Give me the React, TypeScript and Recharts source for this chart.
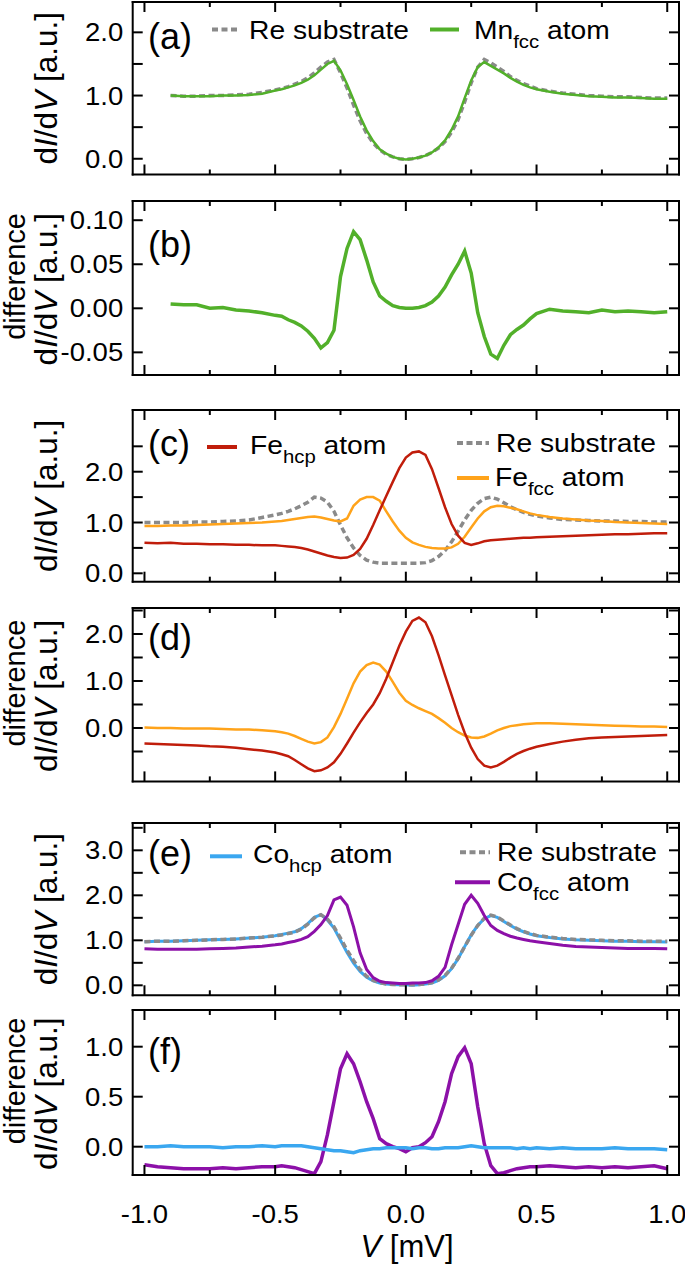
import React from 'react';
import { LineChart, Line, XAxis, YAxis, Legend } from 'recharts';

const FONT = "'Liberation Sans', Arial, Helvetica, sans-serif";
const W = 685;
const PL = 132.7;
const PR = 679;
const SXT = 1.1;
const SXL = 1.13;
const TICK_FS = 25;
const LEG_FS = 25;
const SUB_FS = 18;
const TITLE_FS = 31.5;
const DIFF_FS = 29;
const XTITLE_FS = 31;
const PANEL_FS = 36;

const GRAY = '#8a8a8a';
const GREEN = '#52b02a';
const RED = '#c01d0b';
const ORANGE = '#ffa31a';
const BLUE = '#3aa7f0';
const PURPLE = '#8c10a8';

// bias voltage [mV]
const V_MV = [-1.0, -0.95, -0.9, -0.85, -0.8, -0.75, -0.7, -0.65, -0.6, -0.55,
  -0.5, -0.475, -0.45, -0.425, -0.4, -0.375, -0.35, -0.325, -0.3, -0.275, -0.25, -0.225, -0.2, -0.175, -0.15, -0.125, -0.1, -0.075, -0.05, -0.025,
  0, 0.025, 0.05, 0.075, 0.1, 0.125, 0.15, 0.175, 0.2, 0.225, 0.25, 0.275, 0.3, 0.325, 0.35, 0.375, 0.4, 0.425, 0.45, 0.475, 0.5,
  0.55, 0.6, 0.65, 0.7, 0.75, 0.8, 0.85, 0.9, 0.95, 1.0];

// (a)
const reSubA = [null, null, 1.0, 0.99, 0.99, 1.0, 1.0, 1.01, 1.02, 1.05,
  1.09, 1.11, 1.14, 1.18, 1.22, 1.28, 1.36, 1.45, 1.53, 1.57, 1.36, 1.12, 0.85, 0.6, 0.4, 0.25, 0.14, 0.07, 0.03, 0.0,
  -0.01, 0.0, 0.02, 0.05, 0.1, 0.17, 0.27, 0.42, 0.62, 0.9, 1.2, 1.45, 1.57, 1.52, 1.45, 1.38, 1.3, 1.24, 1.19, 1.15, 1.11,
  1.07, 1.04, 1.02, 1.0, 0.99, 0.98, 0.98, 0.97, 0.96, 0.96];
const mnFccA = [null, null, 1.0, 0.99, 0.99, 0.99, 1.0, 1.0, 1.01, 1.03,
  1.08, 1.1, 1.13, 1.16, 1.2, 1.25, 1.32, 1.41, 1.5, 1.55, 1.4, 1.18, 0.93, 0.67, 0.45, 0.28, 0.15, 0.08, 0.03, 0.0,
  -0.01, 0.0, 0.02, 0.05, 0.1, 0.18, 0.29, 0.46, 0.67, 0.96, 1.24, 1.45, 1.53, 1.47, 1.41, 1.35, 1.28, 1.22, 1.17, 1.13, 1.1,
  1.06, 1.03, 1.01, 0.99, 0.98, 0.97, 0.97, 0.96, 0.95, 0.95];
// (b)
const mnDiffB = [null, null, 0.005, 0.004, 0.004, 0.0, 0.001, -0.002, -0.003, -0.005,
  -0.008, -0.009, -0.013, -0.016, -0.02, -0.026, -0.034, -0.045, -0.039, -0.025, 0.036, 0.068, 0.087, 0.078, 0.055, 0.03, 0.014, 0.008, 0.003, 0.001,
  0.0, 0.0, 0.001, 0.003, 0.007, 0.014, 0.024, 0.038, 0.05, 0.065, 0.04, -0.005, -0.032, -0.052, -0.057, -0.042, -0.03, -0.024, -0.019, -0.012, -0.006,
  -0.001, -0.003, -0.004, -0.005, -0.002, -0.004, -0.003, -0.004, -0.005, -0.004];
// (c)
const feHcpC = [0.6, 0.59, 0.6, 0.58, 0.58, 0.57, 0.57, 0.56, 0.56, 0.55,
  0.55, 0.54, 0.53, 0.52, 0.5, 0.47, 0.43, 0.39, 0.35, 0.32, 0.3, 0.31, 0.36, 0.48, 0.68, 0.95, 1.24, 1.52, 1.8, 2.07,
  2.28, 2.38, 2.4, 2.33, 2.05, 1.68, 1.3, 0.97, 0.74, 0.6, 0.56, 0.59, 0.63, 0.65, 0.66, 0.67, 0.68, 0.69, 0.7, 0.7, 0.71,
  0.72, 0.73, 0.74, 0.75, 0.76, 0.77, 0.77, 0.78, 0.79, 0.79];
const reSubC = [1.0, 1.0, 1.0, 1.0, 1.01, 1.01, 1.02, 1.03, 1.05, 1.1,
  1.15, 1.18, 1.22, 1.27, 1.33, 1.4, 1.5, 1.48, 1.4, 1.22, 0.95, 0.7, 0.5, 0.35, 0.26, 0.22, 0.2, 0.2, 0.2, 0.2,
  0.2, 0.2, 0.2, 0.21, 0.25, 0.33, 0.45, 0.62, 0.83, 1.05, 1.24, 1.38, 1.47, 1.5, 1.46, 1.39, 1.31, 1.25, 1.2, 1.16, 1.13,
  1.09, 1.06, 1.05, 1.04, 1.03, 1.03, 1.02, 1.02, 1.01, 1.01];
const feFccC = [0.93, 0.93, 0.94, 0.94, 0.95, 0.96, 0.97, 0.98, 0.99, 1.0,
  1.02, 1.03, 1.05, 1.07, 1.09, 1.11, 1.12, 1.1, 1.07, 1.04, 1.02, 1.08, 1.33, 1.45, 1.5, 1.5, 1.43, 1.22, 1.02, 0.84,
  0.7, 0.61, 0.56, 0.52, 0.5, 0.49, 0.49, 0.51, 0.58, 0.72, 0.9, 1.08, 1.22, 1.3, 1.33, 1.32, 1.29, 1.26, 1.22, 1.18, 1.15,
  1.11, 1.08, 1.06, 1.04, 1.03, 1.01, 1.0, 0.99, 0.98, 0.97];
// (d)
const feHcpDiffD = [-0.33, -0.34, -0.35, -0.36, -0.37, -0.39, -0.4, -0.42, -0.45, -0.48,
  -0.52, -0.56, -0.6, -0.68, -0.77, -0.86, -0.92, -0.9, -0.84, -0.73, -0.55, -0.33, -0.1, 0.12, 0.32, 0.5, 0.74, 1.05, 1.4, 1.75,
  2.05, 2.28, 2.35, 2.25, 1.95, 1.55, 1.12, 0.7, 0.28, -0.1, -0.42, -0.66, -0.8, -0.84, -0.8, -0.72, -0.63, -0.55, -0.49, -0.44, -0.4,
  -0.34, -0.29, -0.25, -0.22, -0.2, -0.19, -0.18, -0.17, -0.16, -0.15];
const feFccDiffD = [0.01, 0.0, 0.0, -0.01, -0.01, -0.01, -0.02, -0.03, -0.03, -0.05,
  -0.07, -0.09, -0.12, -0.17, -0.23, -0.29, -0.33, -0.3, -0.2, 0.02, 0.3, 0.62, 0.95, 1.2, 1.34, 1.39, 1.35, 1.2, 0.98, 0.75,
  0.58, 0.49, 0.42, 0.36, 0.3, 0.21, 0.11, 0.0, -0.09, -0.16, -0.2, -0.21, -0.18, -0.12, -0.05, 0.0, 0.04, 0.06, 0.08, 0.09, 0.1,
  0.1, 0.09, 0.08, 0.07, 0.06, 0.05, 0.04, 0.03, 0.03, 0.02];
// (e)
const coHcpE = [0.97, 0.98, 0.98, 0.99, 1.0, 1.01, 1.02, 1.03, 1.05, 1.07,
  1.1, 1.13, 1.16, 1.19, 1.26, 1.37, 1.51, 1.57, 1.45, 1.27, 1.0, 0.73, 0.49, 0.31, 0.18, 0.1, 0.05, 0.03, 0.02, 0.01,
  0.01, 0.0, 0.01, 0.03, 0.05, 0.11, 0.21, 0.37, 0.59, 0.86, 1.12, 1.33, 1.48, 1.55, 1.51, 1.42, 1.33, 1.25, 1.19, 1.14, 1.1,
  1.06, 1.03, 1.01, 1.0, 0.99, 0.98, 0.98, 0.97, 0.97, 0.96];
const reSubE = [0.97, 0.98, 0.98, 0.99, 1.0, 1.01, 1.02, 1.03, 1.05, 1.07,
  1.1, 1.12, 1.15, 1.18, 1.25, 1.36, 1.5, 1.57, 1.47, 1.3, 1.05, 0.78, 0.55, 0.35, 0.2, 0.11, 0.06, 0.03, 0.02, 0.01,
  0.01, 0.01, 0.02, 0.03, 0.06, 0.12, 0.22, 0.38, 0.6, 0.86, 1.11, 1.33, 1.49, 1.56, 1.52, 1.43, 1.34, 1.26, 1.2, 1.15, 1.11,
  1.07, 1.04, 1.02, 1.01, 1.0, 0.99, 0.99, 0.98, 0.98, 0.98];
const coFccE = [0.81, 0.8, 0.8, 0.8, 0.8, 0.81, 0.82, 0.83, 0.85, 0.87,
  0.9, 0.92, 0.95, 0.98, 1.02, 1.08, 1.2, 1.35, 1.55, 1.9, 1.96, 1.78, 1.3, 0.72, 0.35, 0.17, 0.09, 0.06, 0.05, 0.04,
  0.04, 0.05, 0.05, 0.06, 0.1, 0.2, 0.4, 0.9, 1.35, 1.8, 2.0, 1.82, 1.55, 1.33, 1.22, 1.15, 1.09, 1.05, 1.02, 0.99, 0.97,
  0.93, 0.89, 0.86, 0.85, 0.84, 0.83, 0.82, 0.82, 0.82, 0.81];
// (f)
const coHcpDiffF = [0.0, 0.0, 0.01, 0.0, 0.0, 0.0, -0.01, 0.0, 0.0, 0.01,
  0.0, 0.01, 0.01, 0.01, 0.01, 0.0, -0.01, -0.02, -0.03, -0.04, -0.04, -0.05, -0.06, -0.04, -0.03, -0.02, -0.02, -0.01, -0.01, -0.01,
  -0.01, -0.02, -0.01, -0.01, -0.02, -0.02, -0.01, -0.01, -0.01, 0.0, 0.01, 0.0, -0.01, -0.01, -0.01, -0.01, -0.01, -0.02, -0.01, -0.02, -0.01,
  -0.02, -0.01, -0.02, -0.02, -0.02, -0.01, -0.02, -0.02, -0.02, -0.03];
const coFccDiffF = [-0.18, -0.2, -0.21, -0.22, -0.22, -0.22, -0.21, -0.22, -0.21, -0.2,
  -0.2, -0.19, -0.2, -0.21, -0.23, -0.25, -0.27, -0.15, 0.12, 0.45, 0.78, 0.93, 0.83, 0.65, 0.45, 0.28, 0.08, 0.03, 0.0, -0.02,
  -0.05, -0.01, 0.0, 0.04, 0.1, 0.25, 0.45, 0.73, 0.9, 0.99, 0.83, 0.4, 0.03, -0.19, -0.27, -0.26, -0.24, -0.22, -0.21, -0.2, -0.2,
  -0.19, -0.2, -0.21, -0.2, -0.21, -0.2, -0.21, -0.2, -0.19, -0.22];

const X_DOMAIN = [-1.045, 1.045];
const X_TICKS = [-1, -0.75, -0.5, -0.25, 0, 0.25, 0.5, 0.75, 1];
const X_LABEL_VALUES = [-1, -0.5, 0, 0.5, 1];
const X_LABEL_TEXT = ['-1.0', '-0.5', '0.0', '0.5', '1.0'];

const DASH = '6 3.5';

const PANELS = [
  {
    id: 'a', top: 1.5, bottom: 174, domain: [-0.249, 2.48], yTicks: [0, 0.5, 1, 1.5, 2], yLabels: [0, 1, 2], dec: 1, diff: false,
    series: [
      { key: 're', values: reSubA, color: GRAY, width: 3.5, dash: DASH },
      { key: 'mn', values: mnFccA, color: GREEN, width: 2.5 },
    ],
    label: { text: '(a)', x: 148, cy: 39 },
    legend: [
      { x1: 212, x2: 238, y: 29, color: GRAY, width: 4, dash: DASH, tx: 249, ty: 29, main: 'Re substrate' },
      { x1: 430, x2: 459, y: 29, color: GREEN, width: 4, tx: 474, ty: 29, main: 'Mn', sub: 'fcc', tail: ' atom' },
    ],
  },
  {
    id: 'b', top: 200.5, bottom: 374.5, domain: [-0.0757, 0.1218], yTicks: [-0.05, 0, 0.05, 0.1], yLabels: [-0.05, 0, 0.05, 0.1], dec: 2, diff: true,
    series: [{ key: 'mnd', values: mnDiffB, color: GREEN, width: 3.5 }],
    label: { text: '(b)', x: 148, cy: 247 },
    legend: [],
  },
  {
    id: 'c', top: 410, bottom: 581.7, domain: [-0.165, 3.215], yTicks: [0, 0.5, 1, 1.5, 2, 2.5], yLabels: [0, 1, 2], dec: 1, diff: false,
    series: [
      { key: 're', values: reSubC, color: GRAY, width: 3.5, dash: DASH },
      { key: 'fefcc', values: feFccC, color: ORANGE, width: 2.5 },
      { key: 'fehcp', values: feHcpC, color: RED, width: 2.5 },
    ],
    label: { text: '(c)', x: 148, cy: 447 },
    legend: [
      { x1: 207, x2: 237, y: 447, color: RED, width: 4, tx: 250, ty: 445, main: 'Fe', sub: 'hcp', tail: ' atom' },
      { x1: 457, x2: 489, y: 443, color: GRAY, width: 4, dash: DASH, tx: 496, ty: 443, main: 'Re substrate' },
      { x1: 457, x2: 489, y: 478, color: ORANGE, width: 4, tx: 495, ty: 477, main: 'Fe', sub: 'fcc', tail: ' atom' },
    ],
  },
  {
    id: 'd', top: 608.3, bottom: 781.7, domain: [-1.136, 2.553], yTicks: [-0.5, 0, 0.5, 1, 1.5, 2, 2.5], yLabels: [0, 1, 2], dec: 1, diff: true,
    series: [
      { key: 'fefccd', values: feFccDiffD, color: ORANGE, width: 2.5 },
      { key: 'fehcpd', values: feHcpDiffD, color: RED, width: 2.5 },
    ],
    label: { text: '(d)', x: 148, cy: 641 },
    legend: [],
  },
  {
    id: 'e', top: 822.7, bottom: 995, domain: [-0.222, 3.607], yTicks: [0, 0.5, 1, 1.5, 2, 2.5, 3, 3.5], yLabels: [0, 1, 2, 3], dec: 1, diff: false,
    series: [
      { key: 'cohcp', values: coHcpE, color: BLUE, width: 3 },
      { key: 're', values: reSubE, color: GRAY, width: 3.5, dash: DASH },
      { key: 'cofcc', values: coFccE, color: PURPLE, width: 3 },
    ],
    label: { text: '(e)', x: 148, cy: 856 },
    legend: [
      { x1: 210, x2: 242, y: 856, color: BLUE, width: 4, tx: 253, ty: 854, main: 'Co', sub: 'hcp', tail: ' atom' },
      { x1: 460, x2: 490, y: 852, color: GRAY, width: 4, dash: DASH, tx: 497, ty: 852, main: 'Re substrate' },
      { x1: 455, x2: 490, y: 882, color: PURPLE, width: 4, tx: 497, ty: 882, main: 'Co', sub: 'fcc', tail: ' atom' },
    ],
  },
  {
    id: 'f', top: 1010, bottom: 1175, domain: [-0.283, 1.367], yTicks: [0, 0.5, 1], yLabels: [0, 0.5, 1], dec: 1, diff: true,
    series: [
      { key: 'cofccd', values: coFccDiffF, color: PURPLE, width: 3.5 },
      { key: 'cohcpd', values: coHcpDiffF, color: BLUE, width: 3.5 },
    ],
    label: { text: '(f)', x: 148, cy: 1055 },
    legend: [],
  },
];

const near = (a: number, b: number) => Math.abs(a - b) < 1e-9;
const isMajorX = (v: number) => Math.abs(v * 2 - Math.round(v * 2)) < 1e-9;

const AXIS_LINE = { stroke: '#000', strokeWidth: 2, strokeLinecap: 'square' };

function DIdV() {
  return (
    <>
      d<tspan fontStyle="italic">I</tspan>/d<tspan fontStyle="italic">V</tspan> [a.u.]
    </>
  );
}

function Overlay({ p, off, last }: any) {
  const cy = (p.top + p.bottom) / 2 - off;
  const titleTop = (p.top + p.bottom) / 2 - 75 - off;
  const textProps = { fontFamily: FONT, fill: '#000' };
  return (
    <svg width={W} height={10} style={{ position: 'absolute', left: 0, top: 0, overflow: 'visible' }}>
      {p.diff ? (
        <>
          <g transform={`translate(25,${titleTop}) rotate(-90)`}>
            <text x={0} y={0} textAnchor="end" fontSize={DIFF_FS} {...textProps}>difference</text>
          </g>
          <g transform={`translate(57,${titleTop}) rotate(-90)`}>
            <text x={0} y={0} textAnchor="end" fontSize={TITLE_FS} {...textProps}><DIdV /></text>
          </g>
        </>
      ) : (
        <g transform={`translate(57,${cy}) rotate(-90)`}>
          <text x={0} y={0} textAnchor="middle" fontSize={TITLE_FS} {...textProps}><DIdV /></text>
        </g>
      )}
      <text x={p.label.x} y={p.label.cy - off + 0.26 * PANEL_FS} fontSize={PANEL_FS} {...textProps}>{p.label.text}</text>
      {p.legend.map((it: any, i: number) => (
        <g key={i}>
          <line x1={it.x1} x2={it.x2} y1={it.y - off} y2={it.y - off} stroke={it.color} strokeWidth={it.width} strokeDasharray={it.dash} />
          <g transform={`translate(${it.tx},${it.ty - off + 0.36 * LEG_FS}) scale(${SXL},1)`}>
            <text x={0} y={0} fontSize={LEG_FS} {...textProps}>
              {it.main}
              {it.sub ? <tspan dy={9} fontSize={SUB_FS}>{it.sub}</tspan> : null}
              {it.tail ? <tspan dy={it.sub ? -9 : 0} fontSize={LEG_FS}>{it.tail}</tspan> : null}
            </text>
          </g>
        </g>
      ))}
      {last ? (
        <text x={407} y={1249 - off + 0.26 * XTITLE_FS} textAnchor="middle" fontSize={XTITLE_FS} {...textProps}>
          <tspan fontStyle="italic">V</tspan> [mV]
        </text>
      ) : null}
    </svg>
  );
}

function Panel({ p, last }: any) {
  const mt = 24;
  const mb = last ? 95 : 24;
  const H = p.bottom - p.top + mt + mb + 2;
  const off = p.top - mt - 1;
  const data = V_MV.map((v, i) => {
    const row: any = { v };
    p.series.forEach((s: any) => { row[s.key] = s.values[i]; });
    return row;
  });
  const fmt = (v: number) => v.toFixed(p.dec);

  const leftTick = (props: any) => {
    const { x, y, payload } = props;
    const v = payload.value;
    const show = p.yLabels.some((l: number) => near(l, v));
    return (
      <g>
        <line x1={x} x2={x + 10} y1={y} y2={y} stroke="#000" strokeWidth={2} />
        {show ? (
          <g transform={`translate(${x - 9.5},${y + 0.36 * TICK_FS}) scale(${SXT},1)`}>
            <text x={0} y={0} textAnchor="end" fontSize={TICK_FS} fontFamily={FONT} fill="#000">{fmt(v)}</text>
          </g>
        ) : null}
      </g>
    );
  };
  const rightTick = (props: any) => {
    const { x, y } = props;
    return <line x1={x} x2={x - 10} y1={y} y2={y} stroke="#000" strokeWidth={2} />;
  };
  const topTick = (props: any) => {
    const { x, y, payload } = props;
    const len = isMajorX(payload.value) ? 10 : 5;
    return <line x1={x} x2={x} y1={y} y2={y + len} stroke="#000" strokeWidth={2} />;
  };
  const bottomTick = (props: any) => {
    const { x, y, payload } = props;
    const v = payload.value;
    const len = isMajorX(v) ? 10 : 5;
    const idx = X_LABEL_VALUES.findIndex((l) => near(l, v));
    return (
      <g>
        <line x1={x} x2={x} y1={y} y2={y - len} stroke="#000" strokeWidth={2} />
        {last && idx >= 0 ? (
          <g transform={`translate(${x},${y + 39 + 0.36 * TICK_FS}) scale(${SXT},1)`}>
            <text x={0} y={0} textAnchor="middle" fontSize={TICK_FS} fontFamily={FONT} fill="#000">{X_LABEL_TEXT[idx]}</text>
          </g>
        ) : null}
      </g>
    );
  };

  return (
    <div style={{ position: 'absolute', left: 0, top: off, width: W, height: H }}>
      <LineChart width={W} height={H} data={data} margin={{ top: mt, bottom: mb, left: PL - 1, right: W - PR - 1 }}>
        <XAxis xAxisId="b" type="number" dataKey="v" domain={X_DOMAIN} allowDataOverflow ticks={X_TICKS} interval={0}
          orientation="bottom" height={1} tickSize={0} tickMargin={0} tickLine={false} axisLine={AXIS_LINE} tick={bottomTick} />
        <XAxis xAxisId="t" type="number" dataKey="v" domain={X_DOMAIN} allowDataOverflow ticks={X_TICKS} interval={0}
          orientation="top" height={1} tickSize={0} tickMargin={0} tickLine={false} axisLine={AXIS_LINE} tick={topTick} />
        <YAxis yAxisId="l" type="number" domain={p.domain} allowDataOverflow ticks={p.yTicks} interval={0}
          orientation="left" width={1} tickSize={0} tickMargin={0} tickLine={false} axisLine={AXIS_LINE} tick={leftTick} />
        <YAxis yAxisId="r" type="number" domain={p.domain} allowDataOverflow ticks={p.yTicks} interval={0}
          orientation="right" width={1} tickSize={0} tickMargin={0} tickLine={false} axisLine={AXIS_LINE} tick={rightTick} />
        {p.series.map((s: any) => (
          <Line key={s.key} xAxisId="b" yAxisId="l" type="linear" dataKey={s.key} stroke={s.color} strokeWidth={s.width}
            strokeDasharray={s.dash} dot={false} activeDot={false} connectNulls={false} isAnimationActive={false} />
        ))}
        <Legend layout="vertical" align="center" verticalAlign="middle"
          wrapperStyle={{ position: 'absolute', left: 0, top: 0, width: W, height: H, pointerEvents: 'none' }}
          content={() => <Overlay p={p} off={off} last={last} />} />
      </LineChart>
    </div>
  );
}

export default function App() {
  return (
    <div style={{ position: 'absolute', left: 0, top: 0, width: W, height: 1265, background: '#fff' }}>
      {PANELS.map((p, i) => (
        <Panel key={p.id} p={p} last={i === PANELS.length - 1} />
      ))}
    </div>
  );
}
